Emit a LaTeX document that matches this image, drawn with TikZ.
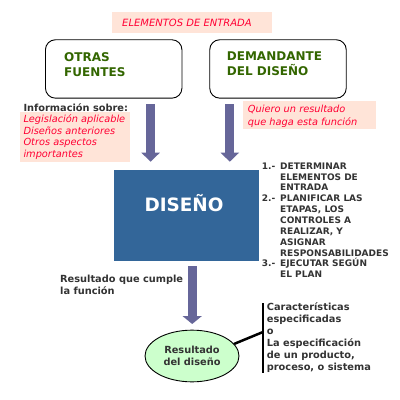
\documentclass[tikz,border=0pt]{standalone}
\usepackage{fontspec}
\setmainfont{DejaVu Sans}
\usetikzlibrary{arrows.meta,shapes.geometric}
\definecolor{peach}{HTML}{FFE4D8}
\definecolor{redtxt}{HTML}{FF0033}
\definecolor{greentxt}{HTML}{336600}
\definecolor{arrowc}{HTML}{666699}
\definecolor{blueb}{HTML}{336699}
\definecolor{lgreen}{HTML}{CCFFCC}
\definecolor{darktxt}{HTML}{333333}
\newcommand\listnum[1]{\makebox[18.3pt][l]{#1}}
\newcommand\listind{\hspace*{18.3pt}}
\begin{document}
\begin{tikzpicture}[x=1pt,y=-1pt,
  roundbox/.style={draw=black,line width=0.9pt,rounded corners=10pt,minimum width=136.5pt,minimum height=58.4pt,anchor=north west,inner sep=0pt},
  boxtext/.style={anchor=base west,align=left,inner sep=0pt,text=greentxt,font=\fontsize{12}{15}\selectfont\bfseries},
  redtext/.style={anchor=base west,align=left,inner sep=0pt,text=redtxt,font=\fontsize{9.8}{11.8}\selectfont\itshape},
  darktext/.style={anchor=base west,align=left,inner sep=0pt,text=darktxt,font=\fontsize{9.8}{12}\selectfont\bfseries},
  listtext/.style={anchor=base west,align=left,inner sep=0pt,text=darktxt,font=\fontsize{9}{10.85}\selectfont\bfseries},
  bigarrow/.style={draw=arrowc,line width=9pt,-{Triangle[width=18pt,length=9pt]}},
  peachbox/.style={fill=peach,draw=none,anchor=north west,inner sep=0pt}
]
\useasboundingbox (0,0) rectangle (400,400);
\fill[white] (0,0) rectangle (400,400);

% top label
\node[peachbox,minimum width=160pt,minimum height=21pt] (toplbl) at (112,12) {};
\node[anchor=base west,inner sep=0pt,text=redtxt,font=\fontsize{10}{11}\selectfont\itshape] (toptxt) at (122,26) {ELEMENTOS DE ENTRADA};

% boxes
\node[roundbox] (otras) at (45,39.3) {};
\node[boxtext] (otrastxt) at (64,76) {OTRAS\\FUENTES};
\node[roundbox] (dem) at (209.3,39.3) {};
\node[boxtext] (demtxt) at (226.7,75.3) {DEMANDANTE\\DEL DISEÑO};

% left info
\node[peachbox,minimum width=110pt,minimum height=50pt] (lpeach) at (20,112) {};
\node[darktext] (info) at (23.3,111) {Información sobre:};
\node[redtext] (infolist) at (23.3,157.7) {Legislación aplicable\\Diseños anteriores\\Otros aspectos\\importantes};

% right info
\node[peachbox,minimum width=133pt,minimum height=28pt] (rpeach) at (243,101) {};
\node[redtext,font=\fontsize{9.8}{12.3}\selectfont\itshape] (quiero) at (247.7,125) {Quiero un resultado\\que haga esta función};

% arrows to design
\coordinate (a1s) at (150.6,104);
\coordinate (a1e) at (150.6,161.7);
\coordinate (a2s) at (229.8,104);
\coordinate (a2e) at (229.8,161.7);
\draw[bigarrow] (a1s) -- (a1e);
\draw[bigarrow] (a2s) -- (a2e);

% design box
\node[fill=blueb,anchor=north west,minimum width=145pt,minimum height=90.7pt,inner sep=0pt] (dis) at (114,170) {};
\node[anchor=base,inner sep=0pt,text=white,font=\fontsize{18.4}{20}\selectfont\bfseries] (distxt) at (184,211.7) {DISEÑO};

% steps list
\node[listtext] (steps) at (261.7,277.7) {\listnum{1.-}DETERMINAR\\\listind ELEMENTOS DE\\\listind ENTRADA\\\listnum{2.-}PLANIFICAR LAS\\\listind ETAPAS, LOS\\\listind CONTROLES A\\\listind REALIZAR, Y\\\listind ASIGNAR\\\listind RESPONSABILIDADES\\\listnum{3.-}EJECUTAR SEGÚN\\\listind EL PLAN};

% result arrow
\coordinate (a3s) at (192.2,266);
\coordinate (a3e) at (192.2,324);
\draw[draw=arrowc,line width=9pt,-{Triangle[width=19pt,length=8pt]}] (a3s) -- (a3e);
\node[darktext] (cumple) at (60,294.3) {Resultado que cumple\\la función};

% result ellipse
\node[ellipse,draw=black,line width=0.9pt,fill=lgreen,minimum width=94pt,minimum height=51.7pt,inner sep=0pt,align=center,text=darktxt,font=\fontsize{9.8}{11.7}\selectfont\bfseries] (res) at (192,356) {Resultado\\del diseño};

% bracket and text
\coordinate (bt) at (263,303);
\coordinate (bb) at (263,373);
\coordinate (bm) at (263,332);
\draw[line width=2pt] (bt) -- (bb);
\draw[line width=2.5pt] (res.16) -- (bm);
\node[darktext] (carac) at (266.7,370) {Características\\especificadas\\o\\La especificación\\de un producto,\\proceso, o sistema};
\end{tikzpicture}
\end{document}
